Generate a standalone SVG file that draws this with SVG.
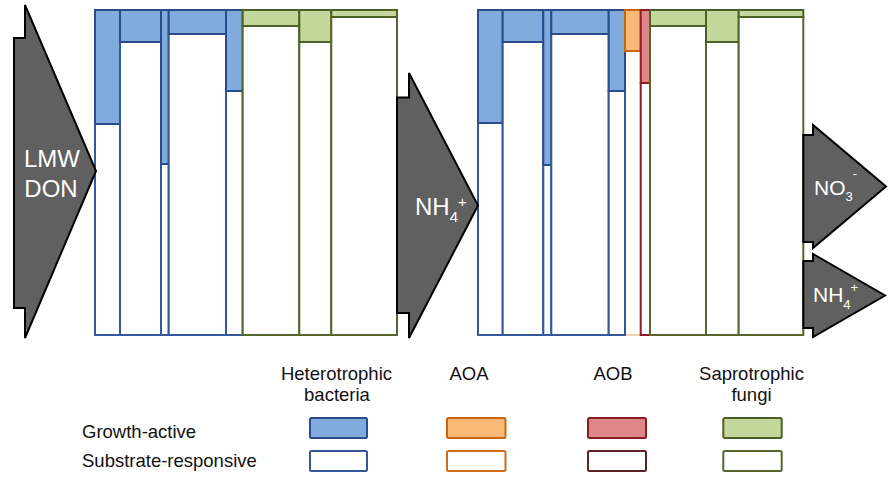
<svg xmlns="http://www.w3.org/2000/svg" width="892" height="493" viewBox="0 0 892 493">
<style>
  .hb { fill: #80abdd; stroke: #2b4c8c; stroke-width: 2; }
  .hw { fill: #ffffff; stroke: #34589a; stroke-width: 2; }
  .gb { fill: #c4d89b; stroke: #4d6026; stroke-width: 2; }
  .gw { fill: #ffffff; stroke: #56662c; stroke-width: 2; }
  .ob { fill: #f9ba78; stroke: #c9650e; stroke-width: 2; }
  .ow { fill: #ffffff; stroke: #d06c18; stroke-width: 2; }
  .owb { fill: #ffffff; stroke: #eec49c; stroke-width: 1.5; }
  .rb { fill: #df8688; stroke: #8a1c22; stroke-width: 2; }
  .rw { fill: #ffffff; stroke: #8a1c22; stroke-width: 2; }
  .rw2 { fill: #ffffff; stroke: #5e2226; stroke-width: 2; }
  .arrow { fill: #606060; stroke: #000000; stroke-width: 2; stroke-linejoin: miter; }
  .at { font-family: "Liberation Sans", Arial, sans-serif; fill: #ffffff; }
  .lt { font-family: "Liberation Sans", Arial, sans-serif; fill: #111111; font-size: 18.5px; }
</style>

<g id="panel-left">
  <g id="L-het-1"><rect class="hw" x="95" y="124" width="25" height="211"/><rect class="hb" x="95" y="10" width="25" height="114"/></g>
  <g id="L-het-2"><rect class="hw" x="120" y="42" width="41" height="293"/><rect class="hb" x="120" y="10" width="41" height="32"/></g>
  <g id="L-het-3"><rect class="hw" x="161" y="164" width="7.7" height="171"/><rect class="hb" x="161" y="10" width="7.7" height="154"/></g>
  <g id="L-het-4"><rect class="hw" x="168.7" y="34" width="57.3" height="301"/><rect class="hb" x="168.7" y="10" width="57.3" height="24"/></g>
  <g id="L-het-5"><rect class="hw" x="226" y="91" width="16.7" height="244"/><rect class="hb" x="226" y="10" width="16.7" height="81"/></g>
  <g id="L-fun-1"><rect class="gw" x="242.7" y="26" width="56.6" height="309"/><rect class="gb" x="242.7" y="10" width="56.6" height="16"/></g>
  <g id="L-fun-2"><rect class="gw" x="299.3" y="42" width="32" height="293"/><rect class="gb" x="299.3" y="10" width="32" height="32"/></g>
  <g id="L-fun-3"><rect class="gw" x="331.3" y="17" width="65.7" height="318"/><rect class="gb" x="331.3" y="10" width="65.7" height="7"/></g>
</g>

<g id="panel-right">
  <rect id="R-aoa-lower" class="owb" x="625" y="51" width="15.7" height="284"/>
  <g id="R-het-1"><rect class="hw" x="478" y="123" width="24.7" height="212"/><rect class="hb" x="478" y="10" width="24.7" height="113"/></g>
  <g id="R-het-2"><rect class="hw" x="502.7" y="42" width="40.6" height="293"/><rect class="hb" x="502.7" y="10" width="40.6" height="32"/></g>
  <g id="R-het-3"><rect class="hw" x="543.3" y="165" width="8" height="170"/><rect class="hb" x="543.3" y="10" width="8" height="155"/></g>
  <g id="R-het-4"><rect class="hw" x="551.3" y="34" width="57.4" height="301"/><rect class="hb" x="551.3" y="10" width="57.4" height="24"/></g>
  <g id="R-het-5"><rect class="hw" x="608.7" y="91" width="16.3" height="244"/><rect class="hb" x="608.7" y="10" width="16.3" height="81"/></g>
  <g id="R-aoa"><rect class="ob" x="625" y="10" width="15.7" height="41"/></g>
  <g id="R-aob"><rect class="rw" x="640.7" y="83" width="9.3" height="252"/><rect class="rb" x="640.7" y="10" width="9.3" height="73"/></g>
  <g id="R-fun-1"><rect class="gw" x="650" y="26" width="56" height="309"/><rect class="gb" x="650" y="10" width="56" height="16"/></g>
  <g id="R-fun-2"><rect class="gw" x="706" y="42" width="32.7" height="293"/><rect class="gb" x="706" y="10" width="32.7" height="32"/></g>
  <g id="R-fun-3"><rect class="gw" x="738.7" y="17" width="64.6" height="318"/><rect class="gb" x="738.7" y="10" width="64.6" height="7"/></g>
</g>

<g id="connectors">
  <g id="arrow-lmw-don">
    <polygon class="arrow" points="14,38 25,38 25,5 96,171 25,338 25,308 14,308"/>
    <text class="at" x="52" y="167" font-size="24" text-anchor="middle">LMW</text>
    <text class="at" x="51" y="197" font-size="24" text-anchor="middle">DON</text>
  </g>
  <g id="arrow-nh4-mid">
    <polygon class="arrow" points="397,97.5 409,97.5 409,73 478,205.5 409,338 409,313 397,313"/>
    <text class="at" x="415" y="215" font-size="24">NH<tspan font-size="15" dy="7">4</tspan><tspan font-size="15" dy="-15">+</tspan></text>
  </g>
  <g id="arrow-no3">
    <polygon class="arrow" points="803.3,135 813,135 813,125 886,186.5 813,248 813,242 803.3,242"/>
    <text class="at" x="814" y="195" font-size="21">NO<tspan font-size="13" dy="6">3</tspan><tspan font-size="13" dy="-23">-</tspan></text>
  </g>
  <g id="arrow-nh4-out">
    <polygon class="arrow" points="803.3,261 813,261 813,254 885,295.5 813,337 813,328 803.3,328"/>
    <text class="at" x="813" y="301.7" font-size="21">NH<tspan font-size="13" dy="7">4</tspan><tspan font-size="13" dy="-17">+</tspan></text>
  </g>
</g>

<g id="legend">
  <text class="lt" x="336.5" y="380" text-anchor="middle">Heterotrophic</text>
  <text class="lt" x="337" y="401" text-anchor="middle">bacteria</text>
  <text class="lt" x="469" y="380" text-anchor="middle">AOA</text>
  <text class="lt" x="613" y="380" text-anchor="middle">AOB</text>
  <text class="lt" x="751.5" y="380" text-anchor="middle">Saprotrophic</text>
  <text class="lt" x="751.5" y="401" text-anchor="middle">fungi</text>
  <text class="lt" x="82" y="437.5">Growth-active</text>
  <text class="lt" x="82" y="467">Substrate-responsive</text>
  <rect class="hb" x="310" y="418" width="57" height="20" rx="1.5"/>
  <rect class="hw" x="310" y="451" width="57" height="20" rx="1.5"/>
  <rect class="ob" x="447" y="418" width="58.5" height="20" rx="1.5"/>
  <rect class="ow" x="447" y="451" width="58.5" height="20" rx="1.5"/>
  <rect class="rb" x="588" y="418" width="58" height="20" rx="1.5"/>
  <rect class="rw2" x="588" y="451" width="58" height="20" rx="1.5"/>
  <rect class="gb" x="723.3" y="418" width="58.4" height="20" rx="1.5"/>
  <rect class="gw" x="723.3" y="451" width="58.4" height="20" rx="1.5"/>
</g>
</svg>
